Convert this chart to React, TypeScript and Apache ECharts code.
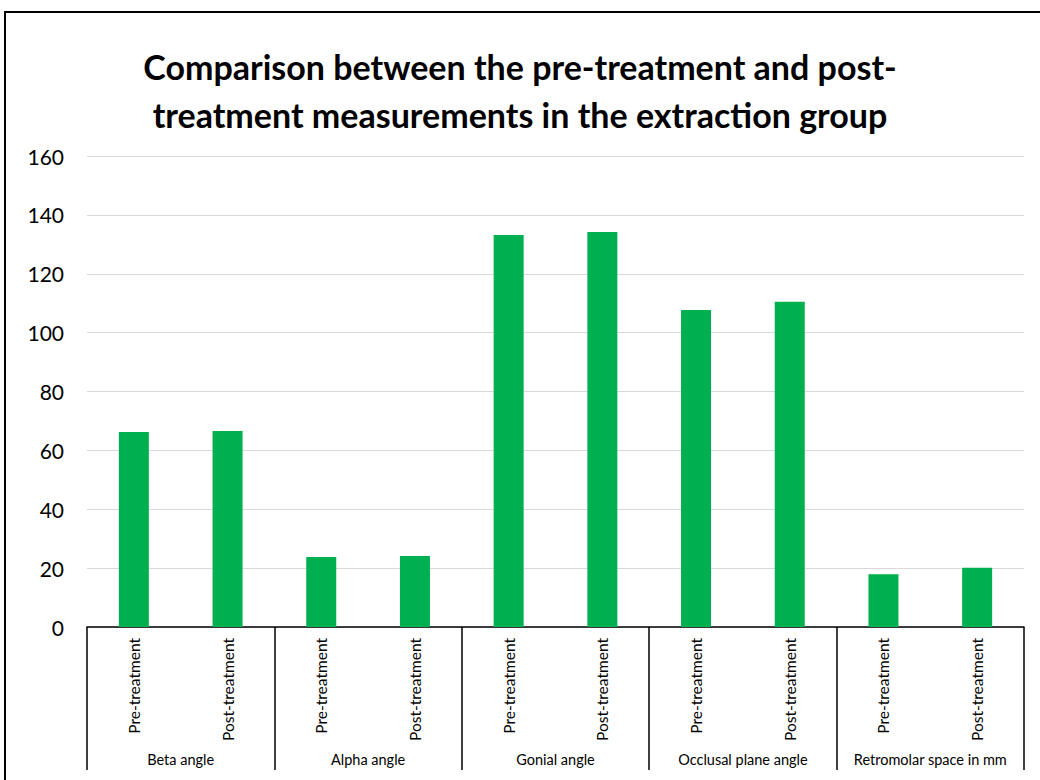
import React, { useEffect, useRef } from "react";
import * as echarts from "echarts";

const titleLines = [
  "Comparison between the pre-treatment and post-",
  "treatment measurements in the extraction group",
];
const groups = [
  "Beta angle",
  "Alpha angle",
  "Gonial angle",
  "Occlusal plane angle",
  "Retromolar space in mm",
];
const phases = ["Pre-treatment", "Post-treatment"];
const preValues = [66.2, 23.8, 133.2, 107.7, 17.9];
const postValues = [66.6, 24.1, 134.2, 110.5, 20.1];
const yTicks = { min: 0, max: 160, interval: 20 };

const FONT = "Lato";

export default function App() {
  const ref = useRef<HTMLDivElement>(null);
  useEffect(() => {
    if (!ref.current) return;
    const chart = echarts.init(ref.current, undefined, { renderer: "svg" });
    const categories: string[] = [];
    const values: number[] = [];
    groups.forEach((_, i) => {
      categories.push(phases[0]);
      values.push(preValues[i]);
      categories.push(phases[1]);
      values.push(postValues[i]);
    });
    chart.setOption({
      animation: false,
      backgroundColor: "#ffffff",
      textStyle: { fontFamily: FONT },
      title: {
        text: titleLines.join("\n"),
        left: "center",
        top: 37,
        textStyle: {
          fontFamily: FONT,
          fontSize: 34,
          fontWeight: "bold",
          color: "#000",
          lineHeight: 48,
        },
      },
      graphic: [
        {
          type: "rect",
          shape: { x: 5, y: 12, width: 1100, height: 1000 },
          style: { fill: "none", stroke: "#000", lineWidth: 2 },
          silent: true,
        },
      ],
      grid: { left: 87, right: 16, top: 156, bottom: 153, containLabel: false },
      xAxis: [
        {
          type: "category",
          data: categories,
          axisLine: { show: false },
          axisTick: { show: false },
          axisLabel: {
            interval: 0,
            rotate: 90,
            margin: 11,
            fontSize: 15.5,
            fontFamily: FONT,
            color: "#000",
          },
        },
        {
          type: "category",
          data: groups,
          position: "bottom",
          axisLine: { show: true, lineStyle: { color: "#000", width: 1.5 } },
          axisTick: { show: true, length: 143, lineStyle: { color: "#000", width: 1.5 } },
          axisLabel: {
            interval: 0,
            margin: 125,
            fontSize: 14.5,
            fontFamily: FONT,
            color: "#000",
          },
        },
      ],
      yAxis: {
        type: "value",
        min: yTicks.min,
        max: yTicks.max,
        interval: yTicks.interval,
        axisLine: { show: false },
        axisTick: { show: false },
        splitLine: { lineStyle: { color: "#d9d9d9", width: 1.2 } },
        axisLabel: { fontSize: 21, margin: 23, color: "#000", fontFamily: FONT },
      },
      series: [
        {
          type: "bar",
          xAxisIndex: 0,
          data: values,
          barWidth: 30,
          itemStyle: { color: "#00b050" },
        },
      ],
    });
    return () => chart.dispose();
  }, []);
  return (
    <div
      ref={ref}
      style={{ position: "fixed", left: 0, top: 0, width: 1040, height: 780 }}
    />
  );
}
